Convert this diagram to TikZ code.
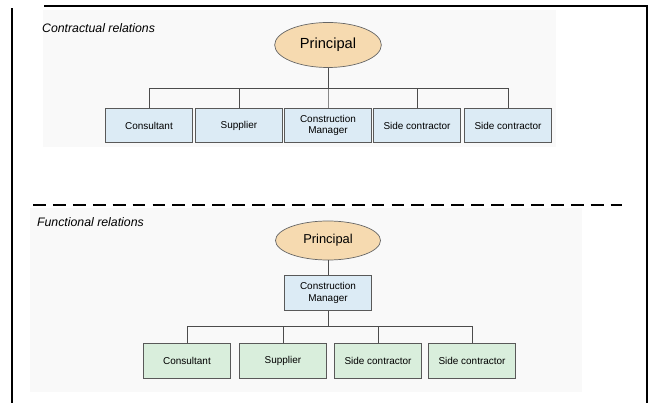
\documentclass[tikz,border=0pt]{standalone}
\usepackage{fontspec}
\setmainfont{Liberation Sans}
\usetikzlibrary{shapes.geometric}
\definecolor{peach}{HTML}{F6DAB0}
\definecolor{paleblue}{HTML}{DCEBF5}
\definecolor{palegreen}{HTML}{D9EEDC}
\definecolor{panel}{HTML}{F9F9F9}

\begin{document}
\begin{tikzpicture}[x=0.03cm,y=-0.03cm,
    party/.style={draw=black!65,line width=0.6pt,minimum width=2.62cm,minimum height=1.03cm,
                  inner sep=1pt,align=center,font=\fontsize{8.5}{10}\selectfont},
    boss/.style={ellipse,draw=black!60,line width=0.6pt,fill=peach,inner sep=0pt},
    link/.style={draw=black!70,line width=0.6pt},
    heading/.style={anchor=west,font=\itshape\fontsize{10.5}{12}\selectfont}]
    \useasboundingbox (0,0) rectangle (652,403);
    % frame and panels
    \fill[panel] (43,10) rectangle (556,147);
    \fill[panel] (30,208) rectangle (582,392);
    \draw[line width=1.2pt] (12,403) -- (12,8);
    \draw[line width=1.2pt] (44,6) -- (647,6) -- (647,403);
    \draw[line width=1.1pt,dash pattern=on 11pt off 6pt] (33,205) -- (622,205);
    % contractual relations
    \node[heading] (t1) at (38,28) {Contractual relations};
    \node[boss,minimum width=3.2cm,minimum height=1.35cm,font=\fontsize{12.5}{14}\selectfont] (p1) at (328,45) {Principal};
    \foreach \x/\t [count=\i] in {149/Consultant,239/Supplier,328/{Construction\\Manager},417/Side contractor,508/Side contractor}
        \node[party,fill=paleblue] (c\i) at (\x,125.5) {\t};
    \foreach \i in {1,...,5}
        \draw[link] (c\i.north) -- ++(0,-20) -| (p1.south);
    % functional relations
    \node[heading] (t2) at (33,222) {Functional relations};
    \node[boss,minimum width=3.15cm,minimum height=1.17cm,font=\fontsize{11}{13}\selectfont] (p2) at (328,240.5) {Principal};
    \node[party,fill=paleblue] (m) at (328,293) {Construction\\Manager};
    \draw[link] (p2.south) -- (m.north);
    \foreach \x/\t [count=\i] in {187/Consultant,283/Supplier,378/Side contractor,472/Side contractor}
        \node[party,fill=palegreen] (f\i) at (\x,361) {\t};
    \foreach \i in {1,...,4}
        \draw[link] (f\i.north) -- ++(0,-17) -| (m.south);
\end{tikzpicture}
\end{document}
